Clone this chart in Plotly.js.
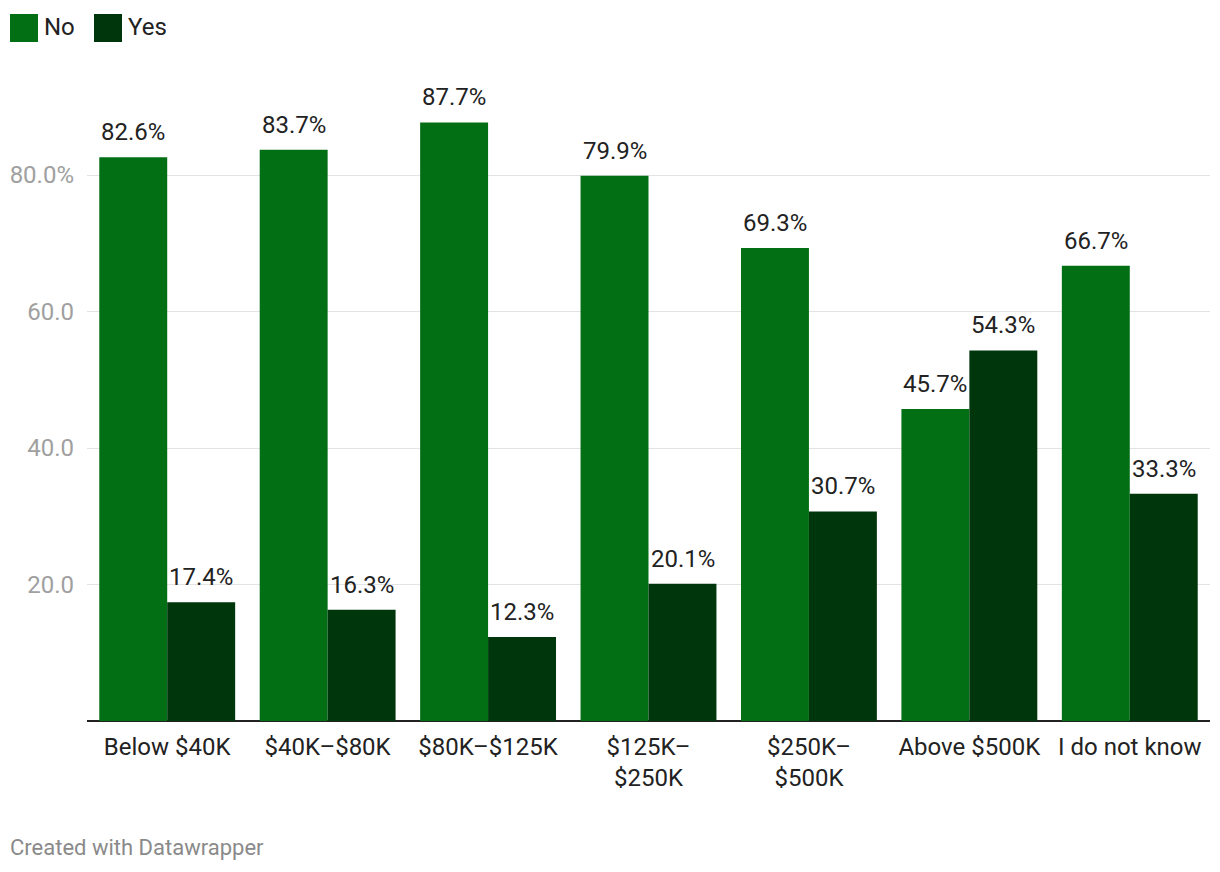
<!DOCTYPE html>
<html>
<head>
<meta charset="utf-8">
<script src="https://cdn.plot.ly/plotly-3.0.1.min.js"></script>
<style>
html,body{margin:0;padding:0;background:#fff;}
#chart{width:1220px;height:872px;}
</style>
</head>
<body>
<div id="chart"></div>
<script>
var categories = ["Below $40K", "$40K–$80K", "$80K–$125K", "$125K–<br>$250K", "$250K–<br>$500K", "Above $500K", "I do not know"];
var noValues = [82.6, 83.7, 87.7, 79.9, 69.3, 45.7, 66.7];
var yesValues = [17.4, 16.3, 12.3, 20.1, 30.7, 54.3, 33.3];
var seriesNames = ["No", "Yes"];
var seriesColors = ["#036f15", "#00360b"];
var yTickVals = [20, 40, 60, 80];
var yTickText = ["20.0", "40.0", "60.0", "80.0%"];

var W = 1220, H = 872, L = 87, R = 10, T = 60, B = 151;
var pw = W - L - R, ph = H - T - B;
function px(x){ return (x - L) / pw; }
function py(y){ return (H - B - y) / ph; }

var FONT = "Roboto";

function barTrace(name, vals, color){
  return {
    type: "bar",
    name: name,
    x: categories,
    y: vals,
    marker: {color: color, line: {width: 0}},
    hoverinfo: "skip"
  };
}

var data = [
  barTrace(seriesNames[0], noValues, seriesColors[0]),
  barTrace(seriesNames[1], yesValues, seriesColors[1])
];

var shapes = [];
var annotations = [];

// value labels above bars
var seriesVals = [noValues, yesValues];
var groupShift = [-34, 34];
for (var s = 0; s < seriesVals.length; s++) {
  for (var c = 0; c < categories.length; c++) {
    annotations.push({
      xref: "x", yref: "y", x: categories[c], y: seriesVals[s][c],
      xshift: groupShift[s], yshift: 25,
      xanchor: "center", yanchor: "middle", showarrow: false,
      text: seriesVals[s][c].toFixed(1) + "%",
      font: {family: FONT, size: 24, color: "#222"}
    });
  }
}

// legend
var legendX = [10, 94];
for (var i = 0; i < seriesNames.length; i++) {
  shapes.push({type: "rect", xref: "paper", yref: "paper",
    x0: px(legendX[i]), x1: px(legendX[i] + 28), y0: py(42), y1: py(14),
    fillcolor: seriesColors[i], line: {width: 0}});
  annotations.push({xref: "paper", yref: "paper", x: px(legendX[i] + 32), y: py(27),
    xanchor: "left", yanchor: "middle", showarrow: false, text: seriesNames[i],
    font: {family: FONT, size: 24, color: "#222"}});
}
annotations.push({xref: "paper", yref: "paper", x: px(8), y: py(847),
  xanchor: "left", yanchor: "middle", showarrow: false, text: "Created with Datawrapper",
  font: {family: FONT, size: 22, color: "#8a8a8a"}});

var layout = {
  width: W, height: H,
  margin: {l: L, r: R, t: T, b: B, pad: 0},
  paper_bgcolor: "#fff", plot_bgcolor: "#fff",
  font: {family: FONT, size: 24, color: "#222"},
  showlegend: false,
  barmode: "group",
  bargap: 0.153,
  bargroupgap: 0,
  xaxis: {
    type: "category",
    showgrid: false, showline: false, zeroline: false,
    ticks: "",
    ticklabelstandoff: 9,
    tickfont: {family: FONT, size: 24, color: "#222"},
    fixedrange: true
  },
  yaxis: {
    range: [0, 96.85],
    tickvals: yTickVals, ticktext: yTickText,
    showgrid: true, gridcolor: "#e3e3e3", gridwidth: 1,
    zeroline: true, zerolinecolor: "#222", zerolinewidth: 2,
    showline: false, ticks: "",
    ticklabelstandoff: 12,
    tickfont: {family: FONT, size: 24, color: "#a0a0a0"},
    fixedrange: true
  },
  shapes: shapes,
  annotations: annotations
};

Plotly.newPlot("chart", data, layout, {displayModeBar: false, staticPlot: true});
</script>
</body>
</html>
